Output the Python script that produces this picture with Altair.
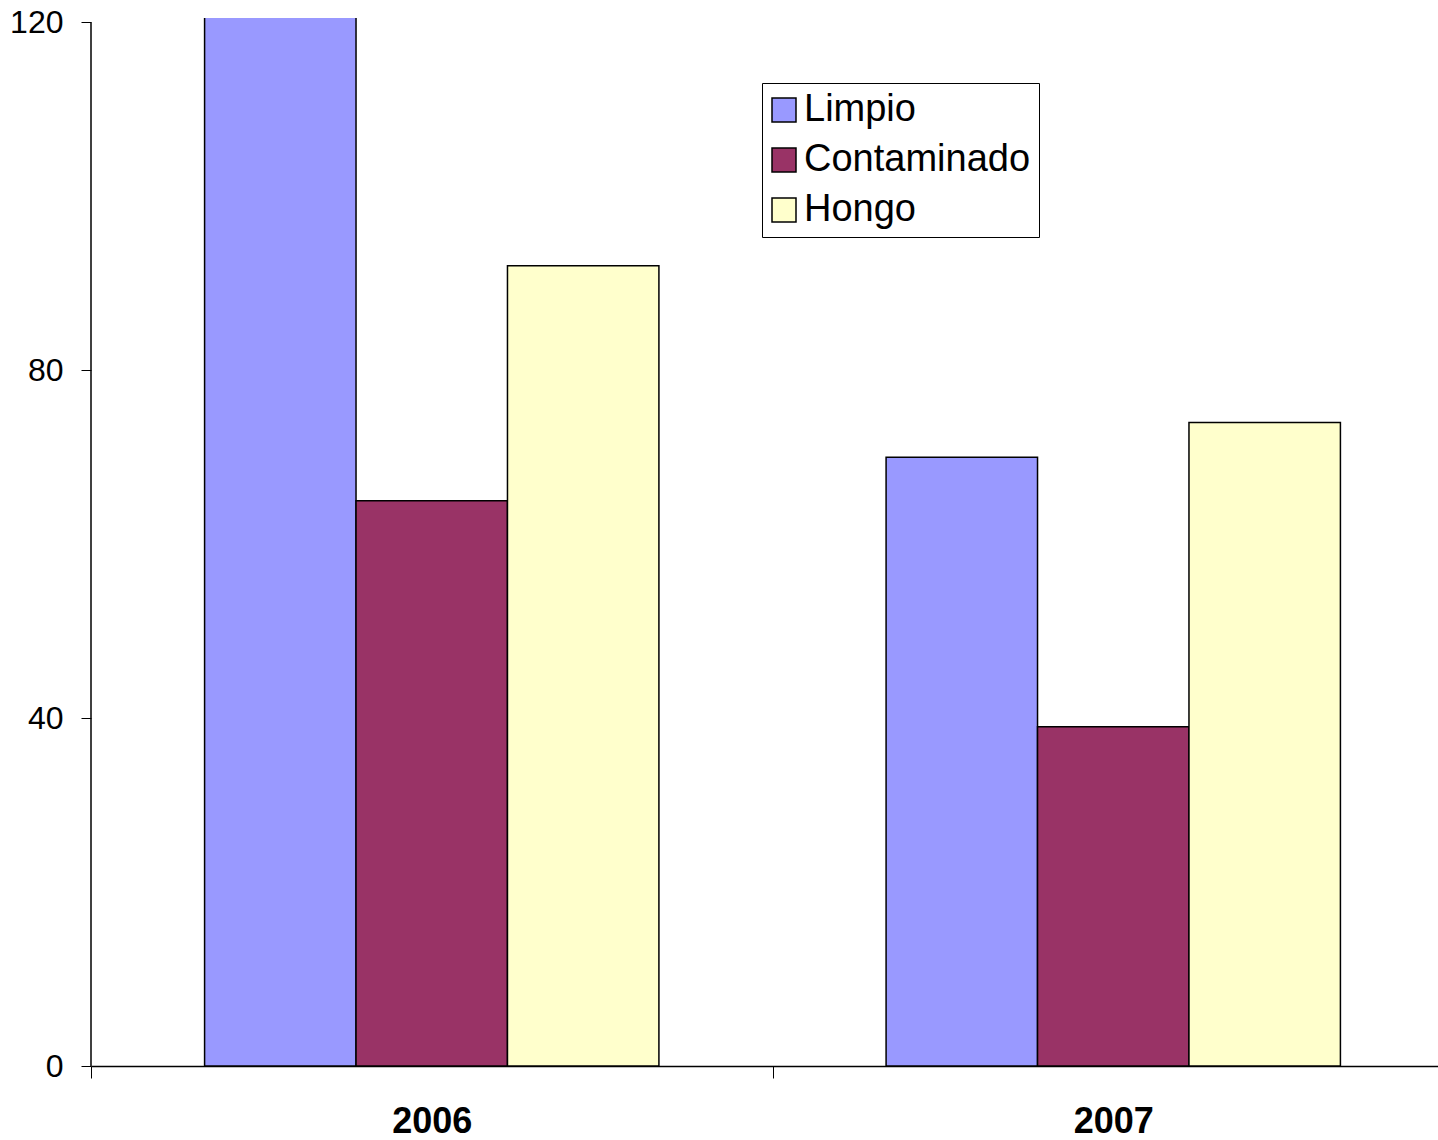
import altair as alt
import pandas as pd

# Counts per year and sample condition
years = ["2006", "2007"]
conditions = ["Limpio", "Contaminado", "Hongo"]
limpio = [128, 70]
contaminado = [65, 39]
hongo = [92, 74]
colors = ["#9999FF", "#993366", "#FFFFCC"]

rows = []
for i, y in enumerate(years):
    for c, vals in zip(conditions, [limpio, contaminado, hongo]):
        rows.append({"Año": y, "Estado": c, "Valor": vals[i]})
df = pd.DataFrame(rows)

FONT = "Liberation Sans"

bars = alt.Chart(df).mark_bar(stroke="black", strokeWidth=1.5, clip=True).encode(
    x=alt.X(
        "Año:N",
        sort=years,
        # the category band runs a little past the right edge of the canvas
        scale=alt.Scale(paddingInner=0, paddingOuter=0, range=[0, 1363]),
        axis=alt.Axis(
            title=None,
            labelAngle=0,
            labelFont=FONT,
            labelFontSize=36,
            labelFontWeight="bold",
            labelColor="black",
            labelPadding=26,
            tickBand="extent",
            tickSize=12,
            tickColor="black",
            domainColor="black",
            domainWidth=1.5,
            grid=False,
        ),
    ),
    xOffset=alt.XOffset(
        "Estado:N",
        sort=conditions,
        scale=alt.Scale(paddingInner=0, paddingOuter=0.75),
    ),
    y=alt.Y(
        "Valor:Q",
        scale=alt.Scale(domain=[0, 120.5], nice=False, zero=True),
        axis=alt.Axis(
            title=None,
            values=[0, 40, 80, 120],
            labelFont=FONT,
            labelFontSize=32,
            labelColor="black",
            labelPadding=18,
            tickSize=10,
            tickColor="black",
            domain=False,
            grid=False,
        ),
    ),
    color=alt.Color(
        "Estado:N",
        sort=conditions,
        scale=alt.Scale(domain=conditions, range=colors),
        legend=alt.Legend(
            title=None,
            orient="none",
            legendX=671,
            legendY=65,
            labelFont=FONT,
            labelFontSize=38,
            labelColor="black",
            labelLimit=500,
            symbolType="square",
            symbolSize=576,
            symbolStrokeColor="black",
            symbolStrokeWidth=1.5,
            symbolOpacity=1,
            symbolOffset=-5,
            labelOffset=1,
            rowPadding=12,
            padding=8,
            strokeColor="black",
            fillColor="white",
        ),
    ),
)

# vertical axis line from 0 up to the 120 tick
yline = alt.Chart(pd.DataFrame({"y0": [0], "y1": [120]})).mark_rule(
    color="black", strokeWidth=1.5
).encode(
    x=alt.value(0),
    y=alt.Y("y0:Q", scale=alt.Scale(domain=[0, 120.5], nice=False)),
    y2="y1:Q",
)

chart = alt.layer(bars, yline).properties(
    width=1347,
    height=1048,
    autosize=alt.AutoSizeParams(type="none"),
    padding={"left": 91, "top": 18, "right": 0, "bottom": 74},
).configure(background="white").configure_view(stroke=None)

chart.save("out.html", embed_options={"renderer": "svg", "actions": False})
